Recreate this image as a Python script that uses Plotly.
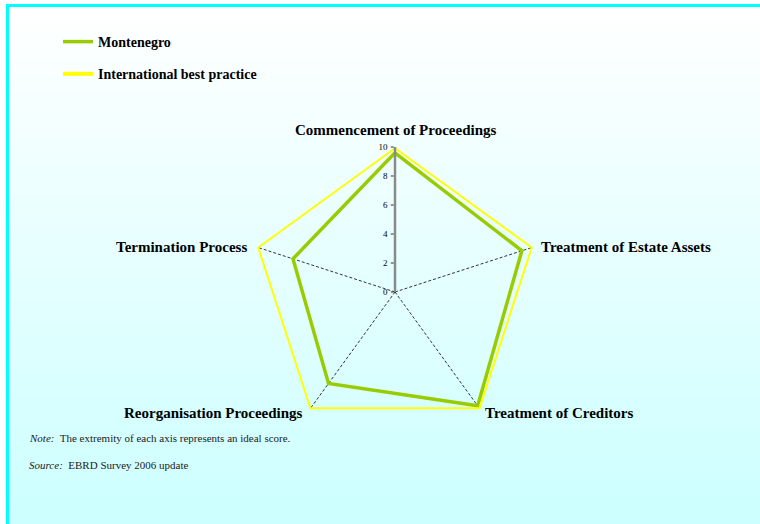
import plotly.graph_objects as go

categories = ["Commencement of Proceedings", "Treatment of Estate Assets",
              "Treatment of Creditors", "Reorganisation Proceedings",
              "Termination Process"]
montenegro = [9.6, 9.2, 9.7, 7.8, 7.4]
best_practice = [10, 10, 10, 10, 10]
radial_ticks = [0, 2, 4, 6, 8, 10]

W, H = 760, 524
SERIF = "Liberation Serif, Times New Roman, serif"


def px(x):
    return x / W


def py(y):
    return 1 - y / H


def closed(v):
    return list(v) + [v[0]]


fig = go.Figure()

# spokes (axes) for each category
for c in categories:
    fig.add_trace(go.Scatterpolar(
        r=[0, max(radial_ticks)], theta=[c, c], mode="lines",
        line=dict(color="#333333", width=1, dash="3px,2px"),
        showlegend=False, hoverinfo="skip"))

fig.add_trace(go.Scatterpolar(
    r=closed(montenegro), theta=closed(categories), mode="lines",
    name="<b>Montenegro</b>", line=dict(color="#99cc00", width=3.5),
    legendgroup="a"))
fig.add_trace(go.Scatterpolar(
    r=closed(best_practice), theta=closed(categories), mode="lines",
    name="<b>International best practice</b>",
    line=dict(color="#ffff00", width=4),
    legendgroup="b"))

shapes = []
# vertical gradient background
n = 60
top, bot = 7, H
for i in range(n):
    y0 = top + (bot - top) * i / n
    y1 = top + (bot - top) * (i + 1) / n + 1
    t = (i + 0.5) / n
    g = round(255 - 51 * t)
    shapes.append(dict(type="rect", xref="paper", yref="paper",
                       x0=px(9), x1=1, y0=py(y1), y1=py(y0),
                       fillcolor=f"rgb({g},255,255)", line=dict(width=0),
                       layer="below"))
# cyan border left and top
shapes.append(dict(type="rect", xref="paper", yref="paper",
                   x0=px(6), x1=px(9), y0=0, y1=py(4),
                   fillcolor="#00ffff", line=dict(width=0), layer="below"))
shapes.append(dict(type="rect", xref="paper", yref="paper",
                   x0=px(6), x1=1, y0=py(7), y1=py(4),
                   fillcolor="#00ffff", line=dict(width=0), layer="below"))

lab_font = dict(family=SERIF, size=15, color="#000000")
annotations = [
    dict(text="<b>Commencement of Proceedings</b>", x=px(395), y=py(130),
         xanchor="center", yanchor="middle"),
    dict(text="<b>Treatment of Estate Assets</b>", x=px(539), y=py(247),
         xanchor="left", yanchor="middle"),
    dict(text="<b>Treatment of Creditors</b>", x=px(483), y=py(413),
         xanchor="left", yanchor="middle"),
    dict(text="<b>Reorganisation Proceedings</b>", x=px(305), y=py(413),
         xanchor="right", yanchor="middle"),
    dict(text="<b>Termination Process</b>", x=px(249), y=py(247),
         xanchor="right", yanchor="middle"),
]
for a in annotations:
    a.update(xref="paper", yref="paper", showarrow=False, font=lab_font)

note_font = dict(family=SERIF, size=11, color="#222222")
annotations += [
    dict(text="<i>Note:</i>  The extremity of each axis represents an ideal score.",
         x=px(27), y=py(438), xanchor="left", yanchor="middle",
         xref="paper", yref="paper", showarrow=False, font=note_font),
    dict(text="<i>Source:</i>  EBRD Survey 2006 update",
         x=px(27), y=py(465), xanchor="left", yanchor="middle",
         xref="paper", yref="paper", showarrow=False, font=note_font),
]

cx, cy, R = 395, 292, 145
fig.update_layout(
    width=W, height=H,
    margin=dict(l=0, r=0, t=0, b=0),
    paper_bgcolor="#ffffff",
    shapes=shapes,
    annotations=annotations,
    showlegend=True,
    legend=dict(x=px(58), y=py(26), xanchor="left", yanchor="top",
                bgcolor="rgba(0,0,0,0)", tracegroupgap=11,
                font=dict(family=SERIF, size=14, color="#000000"),
                itemwidth=30),
    polar=dict(
        domain=dict(x=[px(cx - R), px(cx + R)], y=[py(cy + R), py(cy - R)]),
        bgcolor="rgba(0,0,0,0)",
        gridshape="linear",
        angularaxis=dict(direction="clockwise", rotation=90,
                         showticklabels=False, ticks="", showgrid=False,
                         showline=False),
        radialaxis=dict(range=[0, 10], tickvals=radial_ticks, angle=90,
                        tickangle=90,
                        side="counterclockwise", showgrid=False,
                        showline=True, linecolor="#8a8a8a", linewidth=2.5,
                        ticks="outside", ticklen=3, tickcolor="#333333",
                        tickfont=dict(family=SERIF, size=9, color="#000000")),
    ),
)

fig.write_html("out.html", config={"displayModeBar": False},
               post_script="document.body.style.margin='0';"
                           "document.body.style.padding='0';")
